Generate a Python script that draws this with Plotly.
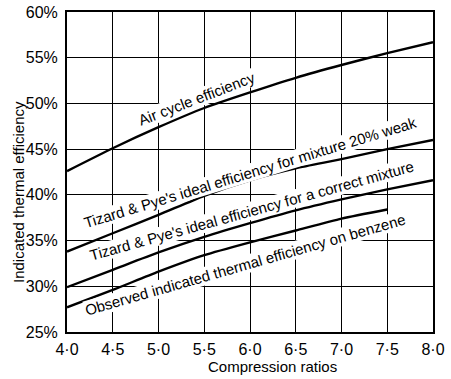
import plotly.graph_objects as go

# Compression ratio (x) and thermal efficiency (%) for each curve
compression = [4.0, 4.5, 5.0, 5.5, 6.0, 6.5, 7.0, 7.5, 8.0]
air_cycle = [42.6, 45.1, 47.4, 49.5, 51.2, 52.8, 54.2, 55.5, 56.7]
weak_mixture = [33.8, 35.8, 37.8, 39.9, 41.6, 42.9, 43.9, 45.0, 46.0]
correct_mixture = [29.9, 31.8, 33.7, 35.4, 36.9, 38.3, 39.5, 40.6, 41.6]
observed_x = [4.0, 4.5, 5.0, 5.5, 6.0, 6.5, 7.0, 7.5]
observed = [27.7, 29.6, 31.6, 33.4, 34.8, 36.1, 37.4, 38.4]

x_ticks = [4.0, 4.5, 5.0, 5.5, 6.0, 6.5, 7.0, 7.5, 8.0]
x_tick_text = ["4·0", "4·5", "5·0", "5·5", "6·0", "6·5", "7·0", "7·5", "8·0"]
y_ticks = [25, 30, 35, 40, 45, 50, 55, 60]
y_tick_text = ["25%", "30%", "35%", "40%", "45%", "50%", "55%", "60%"]

# Curve labels: text, anchor point (x, y) and rotation
labels = [
    ("Air cycle efficiency", 5.42, 50.5, -21),
    ("Tizard & Pye's ideal efficiency for mixture 20% weak", 6.0, 42.4, -17),
    ("Tizard & Pye's ideal efficiency for a correct mixture", 6.02, 38.3, -15.5),
    ("Observed indicated thermal efficiency on benzene", 5.95, 32.35, -16),
]

FONT = "Liberation Sans, Arial, sans-serif"
W, H = 451, 379
M = dict(l=67, r=18, t=12, b=47)
plot_w, plot_h = W - M["l"] - M["r"], H - M["t"] - M["b"]


def px_to_paper(px, py):
    """Pixel position in the page -> paper coordinates of the plot area."""
    return (px - M["l"]) / plot_w, (H - M["b"] - py) / plot_h


fig = go.Figure()
line_style = dict(color="black", width=2.4, shape="spline", smoothing=0.6)
for xs, ys in [(compression, air_cycle), (compression, weak_mixture),
               (compression, correct_mixture), (observed_x, observed)]:
    fig.add_trace(go.Scatter(x=xs, y=ys, mode="lines", line=line_style,
                             hoverinfo="skip", showlegend=False))

for text, lx, ly, ang in labels:
    fig.add_annotation(x=lx, y=ly, xref="x", yref="y", text=text, showarrow=False,
                       textangle=ang, font=dict(family=FONT, size=15, color="black"),
                       bgcolor="white", borderpad=0)

# Axis titles
tx, ty = px_to_paper(18, 192)
fig.add_annotation(x=tx, y=ty, xref="paper", yref="paper", text="Indicated thermal efficiency",
                   showarrow=False, textangle=-90, xanchor="center", yanchor="middle",
                   font=dict(family=FONT, size=15, color="black"))
tx, ty = px_to_paper(272, 366)
fig.add_annotation(x=tx, y=ty, xref="paper", yref="paper", text="Compression ratios",
                   showarrow=False, xanchor="center", yanchor="middle",
                   font=dict(family=FONT, size=15, color="black"))

fig.update_layout(
    width=W, height=H, margin=M,
    paper_bgcolor="white", plot_bgcolor="white",
    font=dict(family=FONT, color="black"),
    showlegend=False,
)

fig.update_xaxes(
    range=[4.0, 8.0], tickvals=x_ticks, ticktext=x_tick_text, automargin=False,
    tickfont=dict(size=16), ticks="", ticklabelstandoff=2,
    showgrid=True, gridcolor="black", gridwidth=1.4,
    showline=True, linecolor="black", linewidth=2, mirror=True,
    zeroline=False,
)
fig.update_yaxes(
    range=[25, 60], tickvals=y_ticks, ticktext=y_tick_text, automargin=False,
    tickfont=dict(size=16), ticks="", ticklabelstandoff=4,
    showgrid=True, gridcolor="black", gridwidth=1.4,
    showline=True, linecolor="black", linewidth=2, mirror=True,
    zeroline=False,
)

fig.write_html("out.html")
